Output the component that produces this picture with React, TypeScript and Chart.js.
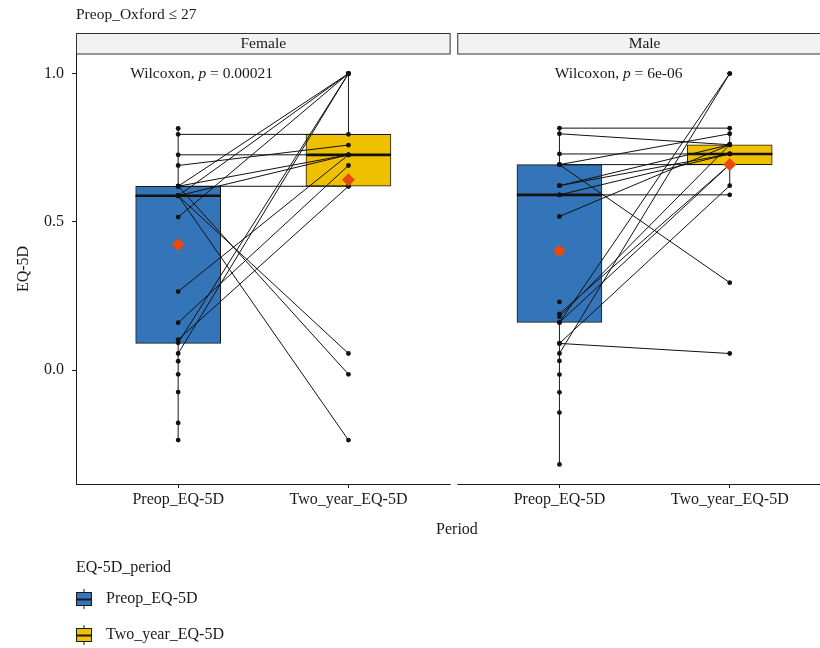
import React, { useEffect, useRef } from "react";
import { Chart, registerables } from "chart.js";

Chart.register(...registerables);

const FONT = "'Liberation Serif', 'DejaVu Serif', serif";

const panels = ["Female", "Male"];
const periods = ["Preop_EQ-5D", "Two_year_EQ-5D"];
const yTicks = [0, 0.5, 1.0];
const pValues = ["0.00021", "6e-06"];
const facetTitle = "Preop_Oxford \u2264 27";
const legendTitle = "EQ-5D_period";

// paired subject values (null = no two-year value)
const femalePre = [0.815, 0.795, 0.726, 0.69, 0.62, 0.62, 0.62, 0.62, 0.588, 0.588, 0.588, 0.588, 0.516, 0.265, 0.16, 0.103, 0.092, 0.056, 0.03, -0.014, -0.074, -0.178, -0.236];
const femalePost = [null, 0.795, 0.726, 0.759, 1.0, 0.726, 0.62, -0.014, 1.0, 0.726, 0.056, -0.236, 1.0, 0.726, 0.69, 0.62, 1.0, 1.0, null, null, null, null, null];
const malePre = [0.816, 0.797, 0.729, 0.693, 0.693, 0.693, 0.622, 0.622, 0.591, 0.591, 0.518, 0.23, 0.19, 0.18, 0.161, 0.161, 0.09, 0.09, 0.056, 0.031, -0.015, -0.075, -0.143, -0.318];
const malePost = [0.816, 0.76, 0.729, 0.797, 0.693, 0.295, 0.76, 0.729, 0.591, 0.729, 0.76, null, 0.693, 0.76, 1.0, 0.693, 0.622, 0.056, 1.0, null, null, null, null, null];

// box statistics: [Female preop, Female two-year, Male preop, Male two-year]
const boxQ1 = [0.09, 0.62, 0.161, 0.693];
const boxMedian = [0.588, 0.726, 0.591, 0.729];
const boxQ3 = [0.62, 0.795, 0.693, 0.76];
const whiskerLow = [-0.236, 0.62, -0.318, 0.622];
const whiskerHigh = [0.815, 1.0, 0.816, 0.816];
const boxMean = [0.424, 0.642, 0.402, 0.693];

const MALE_OFFSET = 2.239;
const xPos = [1, 2, 1 + MALE_OFFSET, 2 + MALE_OFFSET];
const BLUE = "#3375B8";
const YELLOW = "#EFC000";
const boxFills = [BLUE, YELLOW, BLUE, YELLOW];
const INK = "#1a1a1a";

function seg(x1: number, y1: number, x2: number, y2: number, color: string, width: number, order: number) {
  return {
    type: "scatter",
    showLine: true,
    data: [{ x: x1, y: y1 }, { x: x2, y: y2 }],
    borderColor: color,
    borderWidth: width,
    pointRadius: 0,
    fill: false,
    order,
  };
}

const decorPlugin = {
  id: "decor",
  afterDraw(chart: any) {
    const { ctx, chartArea, scales } = chart;
    const x = scales.x;
    const y = scales.y;
    ctx.save();
    const fRight = x.getPixelForValue(2.6);
    const mLeft = x.getPixelForValue(0.4 + MALE_OFFSET);
    const mRight = x.getPixelForValue(2.6 + MALE_OFFSET);
    const left = chartArea.left;
    const bottom = chartArea.bottom;

    // x axis lines (broken between panels)
    ctx.strokeStyle = INK;
    ctx.lineWidth = 1;
    ctx.beginPath();
    ctx.moveTo(left, bottom + 0.5);
    ctx.lineTo(fRight, bottom + 0.5);
    ctx.moveTo(mLeft, bottom + 0.5);
    ctx.lineTo(mRight, bottom + 0.5);
    ctx.stroke();

    // strips
    const sTop = 33.5;
    const sBot = chartArea.top;
    [[left, fRight], [mLeft, mRight]].forEach(([a, b], i) => {
      ctx.fillStyle = "#F2F2F2";
      ctx.fillRect(a, sTop, b - a, sBot - sTop);
      ctx.strokeStyle = "#333";
      ctx.lineWidth = 1;
      ctx.strokeRect(a + 0.5, sTop, b - a - 1, sBot - sTop);
      ctx.fillStyle = INK;
      ctx.font = `15.5px ${FONT}`;
      ctx.textAlign = "center";
      ctx.textBaseline = "middle";
      ctx.fillText(panels[i], (a + b) / 2, (sTop + sBot) / 2 + 0.5);
    });

    // facet title
    ctx.textAlign = "left";
    ctx.textBaseline = "middle";
    ctx.fillStyle = INK;
    ctx.font = `15.5px ${FONT}`;
    ctx.fillText(facetTitle, left, 15);

    // wilcoxon labels
    const labelX = [0.718, 0.972 + MALE_OFFSET];
    labelX.forEach((lx, i) => {
      let px = x.getPixelForValue(lx);
      const py = y.getPixelForValue(1.0);
      const parts: [string, string][] = [
        ["Wilcoxon, ", "normal"],
        ["p", "italic"],
        [" = " + pValues[i], "normal"],
      ];
      parts.forEach(([t, st]) => {
        ctx.font = `${st} 15.5px ${FONT}`;
        ctx.fillText(t, px, py);
        px += ctx.measureText(t).width;
      });
    });

    // axis titles
    ctx.font = `16px ${FONT}`;
    ctx.textAlign = "center";
    ctx.fillText("Period", (left + mRight) / 2 + 3, 530);
    ctx.save();
    ctx.translate(24, (chartArea.top + chartArea.bottom) / 2);
    ctx.rotate(-Math.PI / 2);
    ctx.fillText("EQ-5D", 0, 0);
    ctx.restore();

    // legend
    ctx.textAlign = "left";
    ctx.fillText(legendTitle, 76, 568);
    const keys = [
      { label: periods[0], fill: BLUE, cy: 599 },
      { label: periods[1], fill: YELLOW, cy: 635 },
    ];
    keys.forEach((k) => {
      const kx = 76;
      const kw = 16;
      const cx = kx + kw / 2;
      ctx.strokeStyle = INK;
      ctx.lineWidth = 1;
      ctx.beginPath();
      ctx.moveTo(cx, k.cy - 10);
      ctx.lineTo(cx, k.cy + 10);
      ctx.stroke();
      ctx.fillStyle = k.fill;
      ctx.fillRect(kx, k.cy - 7, kw, 14);
      ctx.strokeRect(kx + 0.5, k.cy - 7 + 0.5, kw - 1, 13);
      ctx.lineWidth = 2;
      ctx.beginPath();
      ctx.moveTo(kx, k.cy + 0.5);
      ctx.lineTo(kx + kw, k.cy + 0.5);
      ctx.stroke();
      ctx.fillStyle = INK;
      ctx.font = `16px ${FONT}`;
      ctx.fillText(k.label, 106, k.cy);
    });
    ctx.restore();
  },
};

export default function App() {
  const ref = useRef<HTMLCanvasElement | null>(null);

  useEffect(() => {
    document.body.style.margin = "0";
    if (!ref.current) return;

    const datasets: any[] = [];
    datasets.push({
      type: "bar",
      data: xPos.map((x, i) => ({ x, y: [boxQ1[i], boxQ3[i]] })),
      backgroundColor: boxFills,
      borderColor: INK,
      borderWidth: 1,
      borderSkipped: false,
      barThickness: 85,
      grouped: false,
      order: 10,
    });
    xPos.forEach((x, i) => {
      datasets.push(seg(x, whiskerLow[i], x, boxQ1[i], INK, 1, 11));
      datasets.push(seg(x, boxQ3[i], x, whiskerHigh[i], INK, 1, 11));
      datasets.push(seg(x - 0.25, boxMedian[i], x + 0.25, boxMedian[i], "#111", 2.6, 9));
    });

    const groups = [
      { pre: femalePre, post: femalePost, x0: xPos[0], x1: xPos[1] },
      { pre: malePre, post: malePost, x0: xPos[2], x1: xPos[3] },
    ];
    const pts: { x: number; y: number }[] = [];
    groups.forEach((g) => {
      g.pre.forEach((v, i) => {
        const w = g.post[i];
        if (w !== null && w !== undefined) datasets.push(seg(g.x0, v, g.x1, w as number, "#111", 1, 5));
        pts.push({ x: g.x0, y: v });
        if (w !== null && w !== undefined) pts.push({ x: g.x1, y: w as number });
      });
    });
    datasets.push({
      type: "scatter",
      data: pts,
      pointRadius: 2.4,
      pointBackgroundColor: "#111",
      pointBorderWidth: 0,
      order: 3,
    });
    datasets.push({
      type: "scatter",
      data: xPos.map((x, i) => ({ x, y: boxMean[i] })),
      pointStyle: "rectRot",
      pointRadius: 6.5,
      pointBackgroundColor: "#E8490F",
      pointBorderWidth: 0,
      order: 1,
    });

    const chart = new Chart(ref.current, {
      type: "scatter",
      data: { datasets },
      options: {
        responsive: false,
        animation: false,
        events: [],
        layout: { padding: { top: 54, left: 0, right: 0, bottom: 0 } },
        plugins: { legend: { display: false }, tooltip: { enabled: false } },
        scales: {
          x: {
            type: "linear",
            min: 0.4,
            max: 4.731,
            offset: false,
            afterBuildTicks: (s: any) => {
              s.ticks = xPos.map((v) => ({ value: v }));
            },
            afterFit: (s: any) => {
              s.height = 648 - 484;
            },
            ticks: {
              autoSkip: false,
              maxRotation: 0,
              padding: 2,
              color: INK,
              font: { family: FONT, size: 16 },
              callback: (_v: any, i: number) => periods[i % 2],
            },
            grid: { offset: false, drawOnChartArea: false, drawTicks: true, tickLength: 4, color: INK },
            border: { display: false },
          },
          y: {
            type: "linear",
            min: -0.384,
            max: 1.066,
            afterBuildTicks: (s: any) => {
              s.ticks = yTicks.map((v) => ({ value: v }));
            },
            afterFit: (s: any) => {
              s.width = 76;
            },
            ticks: {
              padding: 8,
              color: INK,
              font: { family: FONT, size: 16 },
              callback: (v: any) => Number(v).toFixed(1),
            },
            grid: { drawOnChartArea: false, drawTicks: true, tickLength: 4, color: INK },
            border: { display: true, color: INK, width: 1 },
          },
        },
      },
      plugins: [decorPlugin],
    } as any);

    return () => chart.destroy();
  }, []);

  return <canvas ref={ref} width={820} height={648} style={{ display: "block" }} />;
}
